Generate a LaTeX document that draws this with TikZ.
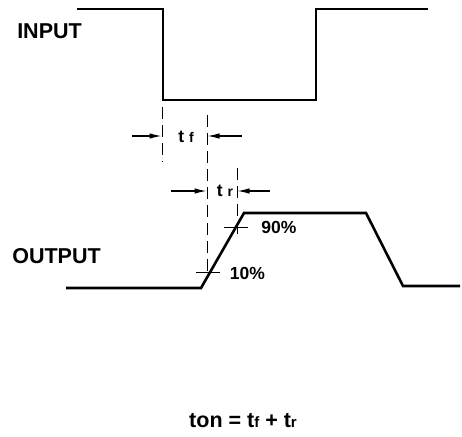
\documentclass[tikz,border=0pt]{standalone}
\usepackage{fontspec}
\setmainfont{Liberation Sans}
\usetikzlibrary{arrows.meta}
\tikzset{
  wave/.style={line width=2.6pt, line join=miter, line cap=butt},
  guide/.style={line width=0.9pt, dash pattern=on 12pt off 6pt},
  tick/.style={line width=0.9pt},
  dimarrow/.style={line width=1.2pt, -{Latex[length=12pt,width=5.5pt]}},
  biglabel/.style={inner sep=0pt, font=\bfseries\fontsize{21.5}{24}\selectfont},
  smalllabel/.style={inner sep=0pt, font=\bfseries\fontsize{17.5}{20}\selectfont},
}
\begin{document}
\begin{tikzpicture}[x=1pt,y=-1pt]
\useasboundingbox (0,0) rectangle (462,436);
% input waveform
\coordinate (i0) at (77,9);
\coordinate (i1) at (163,9);
\coordinate (i2) at (163,100);
\coordinate (i3) at (316,100);
\coordinate (i4) at (316,9);
\coordinate (i5) at (428,9);
\draw[wave] (i0) -- (i1) -- (i2) -- (i3) -- (i4) -- (i5);
% output waveform
\coordinate (o0) at (66,288);
\coordinate (o1) at (201,288);
\coordinate (o2) at (244,213);
\coordinate (o3) at (366,213);
\coordinate (o4) at (403,286);
\coordinate (o5) at (460,286);
\draw[wave] (o0) -- (o1) -- (o2) -- (o3) -- (o4) -- (o5);
% guide lines
\coordinate (d1a) at (162,107);
\coordinate (d1b) at (162,162);
\coordinate (d2a) at (207,115);
\coordinate (d2b) at (207,279);
\coordinate (d3a) at (237,168);
\coordinate (d3b) at (237,238);
\draw[guide] (d1a) -- (d1b);
\draw[guide] (d2a) -- (d2b);
\draw[guide] (d3a) -- (d3b);
% ticks
\coordinate (t10a) at (196,272);
\coordinate (t10b) at (220,272);
\coordinate (t90a) at (224,227);
\coordinate (t90b) at (248,227);
\draw[tick] (t10a) -- (t10b);
\draw[tick] (t90a) -- (t90b);
% tf arrows
\coordinate (fa) at (132,136);
\coordinate (fb) at (161.5,136);
\coordinate (fc) at (242,136);
\coordinate (fd) at (207.5,136);
\draw[dimarrow] (fa) -- (fb);
\draw[dimarrow] (fc) -- (fd);
% tr arrows
\coordinate (ra) at (171,191);
\coordinate (rb) at (206.5,191);
\coordinate (rc) at (270,191);
\coordinate (rd) at (237.5,191);
\draw[dimarrow] (ra) -- (rb);
\draw[dimarrow] (rc) -- (rd);
% labels
\node[biglabel] (inlbl) at (49.5,31) {INPUT};
\node[biglabel] (outlbl) at (56.5,256.5) {OUTPUT};
\node[smalllabel] (tflbl) at (186,137) {t {\fontsize{14}{16}\selectfont f}};
\node[smalllabel] (trlbl) at (225,191) {t {\fontsize{14}{16}\selectfont r}};
\node[smalllabel] (p90) at (279,227) {90\%};
\node[smalllabel] (p10) at (247.5,273) {10\%};
\node[biglabel] (ton) at (243,421) {ton = t{\fontsize{15}{17}\selectfont f} + t{\fontsize{15}{17}\selectfont r}};
\end{tikzpicture}
\end{document}
